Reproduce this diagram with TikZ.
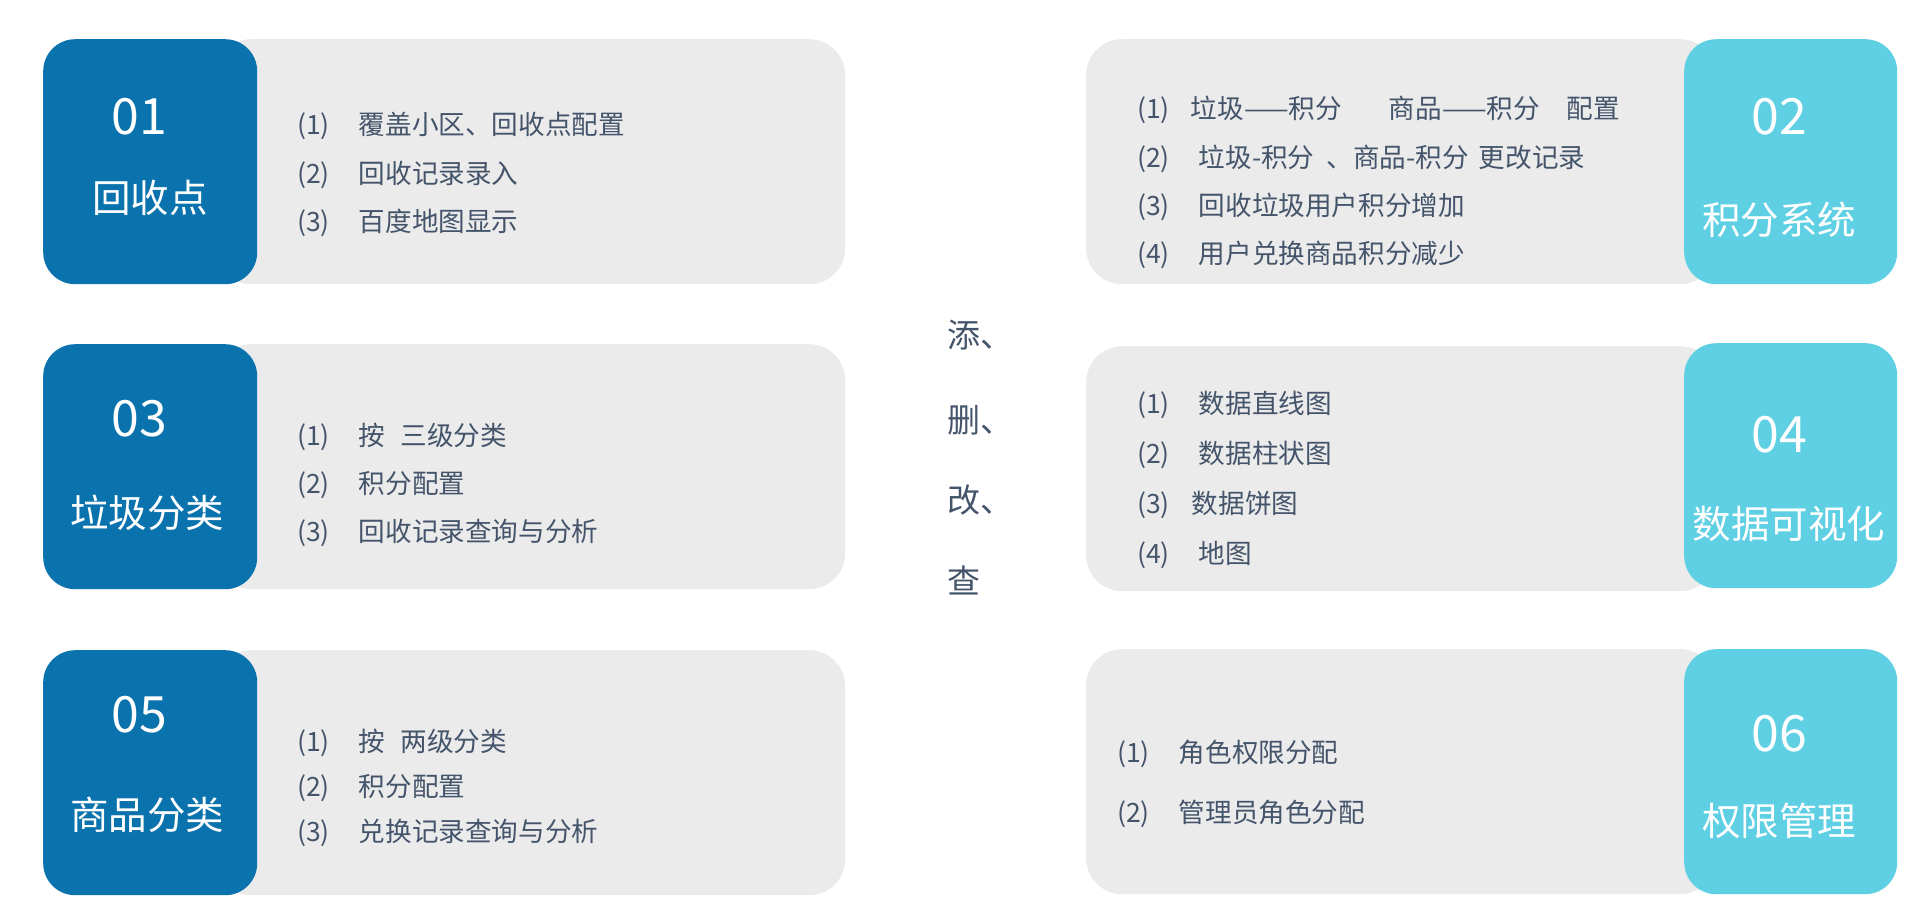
\documentclass[tikz,border=0pt]{standalone}
\usepackage{fontspec}
\setmainfont{Noto Sans CJK SC}
\definecolor{deepblue}{HTML}{0A72AD}
\definecolor{skyblue}{HTML}{5FD0E3}
\definecolor{panelgray}{HTML}{EBEBEB}
\definecolor{textslate}{HTML}{44546A}
\newcommand\lst[3][29pt]{(#2)\hspace{#1}#3}
\begin{document}
\begin{tikzpicture}[x=1pt,y=-1pt,
  panel/.style={fill=panelgray,draw=none,rounded corners=36pt,minimum width=630pt,minimum height=245pt,anchor=north west,inner sep=0pt},
  lefttab/.style={fill=deepblue,draw=none,rounded corners=32pt,minimum width=214pt,minimum height=245pt,anchor=north west,inner sep=0pt},
  righttab/.style={fill=skyblue,draw=none,rounded corners=32pt,minimum width=213pt,minimum height=245pt,anchor=north west,inner sep=0pt},
  num/.style={text=white,font=\fontsize{50}{56}\selectfont,inner sep=0pt},
  ttl/.style={text=white,font=\fontsize{38.5}{44}\selectfont,inner sep=0pt},
  itemtxt/.style={text=textslate,font=\fontsize{26.6}{31}\selectfont,anchor=west,inner sep=0pt},
  ctr/.style={text=textslate,font=\fontsize{33}{38}\selectfont,anchor=west,inner sep=0pt}]
\useasboundingbox[fill=white] (0,0) rectangle (1916,916);

% left column
\node[panel] (p1) at (215,39) {};
\node[lefttab] (t1) at (43,39) {};
\node[num] (n1) at (139,117) {01};
\node[ttl] (h1) at (150,198) {回收点};
\node[itemtxt] (a11) at (297,126) {\lst{1}{覆盖小区、回收点配置}};
\node[itemtxt] (a12) at (297,175) {\lst{2}{回收记录录入}};
\node[itemtxt] (a13) at (297,223) {\lst{3}{百度地图显示}};

\node[panel] (p3) at (215,344) {};
\node[lefttab] (t3) at (43,344) {};
\node[num] (n3) at (139,419) {03};
\node[ttl] (h3) at (147,513) {垃圾分类};
\node[itemtxt] (a31) at (297,437) {\lst{1}{按\hspace{15pt}三级分类}};
\node[itemtxt] (a32) at (297,485) {\lst{2}{积分配置}};
\node[itemtxt] (a33) at (297,533) {\lst{3}{回收记录查询与分析}};

\node[panel] (p5) at (215,650) {};
\node[lefttab] (t5) at (43,650) {};
\node[num] (n5) at (139,715) {05};
\node[ttl] (h5) at (147,815) {商品分类};
\node[itemtxt] (a51) at (297,743) {\lst{1}{按\hspace{15pt}两级分类}};
\node[itemtxt] (a52) at (297,788) {\lst{2}{积分配置}};
\node[itemtxt] (a53) at (297,833) {\lst{3}{兑换记录查询与分析}};

% centre
\node[ctr] (c1) at (947,335) {添、};
\node[ctr] (c2) at (947,420) {删、};
\node[ctr] (c3) at (947,500) {改、};
\node[ctr] (c4) at (947,580) {查};

% right column
\node[panel] (p2) at (1086,39) {};
\node[righttab] (t2) at (1684,39) {};
\node[num] (n2) at (1779,117) {02};
\node[ttl] (h2) at (1779,220) {积分系统};
\node[itemtxt] (b21) at (1137,110) {(1)\hspace{21pt}垃圾——积分\hspace{47pt}商品——积分\hspace{27pt}配置};
\node[itemtxt] (b22) at (1137,159) {(2)\hspace{29pt}垃圾-积分\hspace{12pt}、商品-积分\hspace{10pt}更改记录};
\node[itemtxt] (b23) at (1137,207) {\lst{3}{回收垃圾用户积分增加}};
\node[itemtxt] (b24) at (1137,255) {\lst{4}{用户兑换商品积分减少}};

\node[panel] (p4) at (1086,346) {};
\node[righttab] (t4) at (1684,343) {};
\node[num] (n4) at (1779,435) {04};
\node[ttl] (h4) at (1789,524) {数据可视化};
\node[itemtxt] (b41) at (1137,405) {\lst{1}{数据直线图}};
\node[itemtxt] (b42) at (1137,455) {\lst{2}{数据柱状图}};
\node[itemtxt] (b43) at (1137,505) {\lst[22pt]{3}{数据饼图}};
\node[itemtxt] (b44) at (1137,555) {\lst{4}{地图}};

\node[panel] (p6) at (1086,649) {};
\node[righttab] (t6) at (1684,649) {};
\node[num] (n6) at (1779,734) {06};
\node[ttl] (h6) at (1779,821) {权限管理};
\node[itemtxt] (b61) at (1117,754) {\lst{1}{角色权限分配}};
\node[itemtxt] (b62) at (1117,814) {\lst{2}{管理员角色分配}};
\end{tikzpicture}
\end{document}
